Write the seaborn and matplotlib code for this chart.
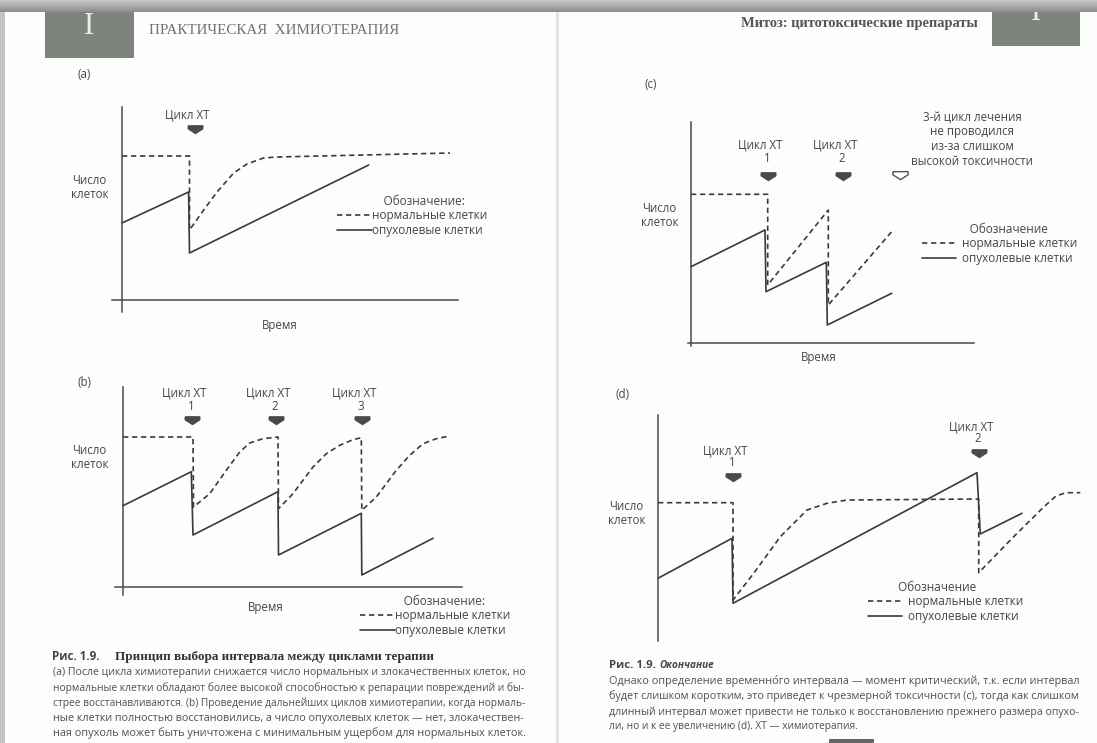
import numpy as np
import pandas as pd
import seaborn as sns
import matplotlib.pyplot as plt
from matplotlib.patches import Rectangle
from matplotlib.colors import LinearSegmentedColormap

# Значения кривых (время / число клеток)
KINDS = ['нормальные клетки', 'опухолевые клетки']

# (a)
a_norm_t = [0, 67.5, 67.5, 81.7, 95, 111.7, 125, 141.5, 155, 328]
a_norm_n = [144, 144, 70, 90, 108, 127, 136, 142, 143, 147]
a_tum_t = [0, 66.6, 67.5, 246.7]
a_tum_n = [77, 108, 47, 135]
a_cycles = [73]

# (b)
b_norm_t = [0, 70, 70.5, 86.7, 103.3, 116.7, 126.7, 140, 155, 155.5, 170, 190, 203.3, 216.7, 230,
            238.3, 238.8, 253.3, 273.3, 286.7, 300, 313.3, 325]
b_norm_n = [150, 150, 80, 93.3, 116.7, 135, 144, 148.3, 150, 78.3, 93.3, 120, 133.3, 141.7, 147.3,
            149.3, 76.7, 90, 116.7, 131.7, 143.3, 148.3, 150.7]
b_tum_t = [0, 68.3, 70, 155, 155.5, 238.3, 238.8, 310]
b_tum_n = [81.3, 115.3, 52, 95.3, 32, 73.7, 12, 48.7]
b_cycles = [69, 153, 239]

# (c)
c_norm_t = [0, 76.7, 76.7, 137.3, 137.3, 200.7]
c_norm_n = [148.7, 148.7, 58, 133, 38, 111.3]
c_tum_t = [0, 74, 75, 135.3, 136.3, 200.7]
c_tum_n = [76.3, 113, 51.3, 80.7, 18, 49.7]
c_cycles = [77, 152]
c_skipped = [209]

# (d)
d_norm_t = [0, 75, 75, 95.7, 122.3, 149, 169, 189, 320.7, 320.7, 355.7, 385.7, 398, 408, 422.3]
d_norm_n = [137.3, 137.3, 40, 66.7, 103.3, 130, 136.7, 140, 141, 67.3, 103.3, 133, 144, 147.3, 147.3]
d_tum_t = [0, 74, 75, 319, 322.3, 364]
d_tum_n = [61.7, 101.7, 36.7, 167.3, 106, 126.7]
d_cycles = [75, 321]

W, H = 1097, 743
TXT = '#464646'
LINE = '#3a3a3a'
BOX = '#7c847b'
ARROW = [(-1, 0.5), (1, 0.5), (1, 0.1), (0, -0.55), (-1, 0.1), (-1, 0.5)]

sns.set_style('white')
plt.rcParams['font.family'] = ['Open Sans', 'DejaVu Sans']

fig = plt.figure(figsize=(W / 100, H / 100), dpi=100)
fig.patch.set_facecolor('#fdfdfd')
bg = fig.add_axes([0, 0, 1, 1])
bg.axis('off')
renderer = fig.canvas.get_renderer()


def label(x, y, s, size=8.3, **kw):
    kw.setdefault('ha', 'center')
    kw.setdefault('va', 'center')
    kw.setdefault('color', TXT)
    return bg.text(x, y, s, fontsize=size, **kw)


def fit(x, y, s, width, size, **kw):
    # подгоняем размер шрифта под ширину строки (выключка по формату)
    kw.setdefault('color', TXT)
    t = bg.text(x, y, s, fontsize=size, ha='left', va='center', **kw)
    if width:
        w = t.get_window_extent(renderer).width
        t.set_fontsize(size * width / w)
    return t


def panel(rect, origin, tn, nn, tt, nt, spines=('left', 'bottom')):
    left, right, top, bottom = rect
    x0, y0 = origin
    ax = fig.add_axes([left / W, 1 - bottom / H, (right - left) / W, (bottom - top) / H])
    df = pd.DataFrame({'t': list(tn) + list(tt), 'n': list(nn) + list(nt),
                       'тип': [KINDS[0]] * len(tn) + [KINDS[1]] * len(tt)})
    sns.lineplot(data=df, x='t', y='n', hue='тип', style='тип', hue_order=KINDS, style_order=KINDS,
                 palette=[LINE, LINE], dashes=[(3.2, 2.2), ''], estimator=None, sort=False,
                 lw=1.2, ax=ax)
    ax.set_xlim(left - x0, right - x0)
    ax.set_ylim(y0 - bottom, y0 - top)
    ax.set(xlabel='', ylabel='', xticks=[], yticks=[])
    ax.patch.set_alpha(0)
    for k, sp in ax.spines.items():
        if k in spines:
            sp.set_visible(True)
            sp.set_position(('data', 0))
            sp.set_color('#4a4a4a')
            sp.set_linewidth(1.1)
        else:
            sp.set_visible(False)
    return ax


def legend(ax, x, y, title, hl, pad):
    old = ax.get_legend()
    handles = [h for h, t in zip(old.legend_handles, old.get_texts()) if t.get_text() in KINDS]
    leg = ax.legend(handles, KINDS, title=title, loc='upper left', bbox_to_anchor=(x / W, 1 - y / H),
                    bbox_transform=fig.transFigure, frameon=False, fontsize=8.5, title_fontsize=8.5,
                    handlelength=hl, handletextpad=pad, labelspacing=0.12, borderpad=0,
                    borderaxespad=0, labelcolor=TXT)
    leg.get_title().set_color(TXT)


def arrows(ax, xs, hs, hollow=False):
    if hollow:
        ax.plot(xs, hs, ls='none', marker=ARROW, ms=11, mfc='white', mec='#555555', mew=1)
    else:
        ax.plot(xs, hs, ls='none', marker=ARROW, ms=10.5, color='#4a4a4a')


def cycle_text(origin, xs, hs, dy_t, dy_n, numbered=True):
    x0, y0 = origin
    for i, (c, h) in enumerate(zip(xs, hs)):
        px, py = x0 + c, y0 - h
        label(px - 8, py - dy_t, 'Цикл ХТ')
        if numbered:
            label(px - 1, py - dy_n, str(i + 1))


def ylabel(x, y):
    label(x, y, 'Число', ha='left')
    label(x - 1, y + 14, 'клеток', ha='left')


# ---- (a)
oa = (122, 300)
ax = panel((112, 458, 107, 312), oa, a_norm_t, a_norm_n, a_tum_t, a_tum_n)
arrows(ax, a_cycles, [171])
legend(ax, 337, 195, '\u2003\u2003Обозначение:', 3.0, 0.0)
cycle_text(oa, a_cycles, [171], 14, 0, numbered=False)
ylabel(72, 180)
label(280, 325, 'Время')
label(84, 75, '(a)')

# ---- (b)
ob = (123, 587)
ax = panel((115, 462, 387, 595), ob, b_norm_t, b_norm_n, b_tum_t, b_tum_n)
arrows(ax, b_cycles, [167] * 3)
legend(ax, 360, 595, '\u2003\u2002Обозначение:', 3.0, 0.0)
cycle_text(ob, b_cycles, [167] * 3, 27, 13)
ylabel(72, 450)
label(266, 607, 'Время')
label(84, 383, '(b)')

# ---- (c)
oc = (691, 343)
ax = panel((688, 974, 122, 346), oc, c_norm_t, c_norm_n, c_tum_t, c_tum_n)
arrows(ax, c_cycles, [167] * 2)
arrows(ax, c_skipped, [168], hollow=True)
legend(ax, 922, 223, '\u2003\u2002Обозначение', 2.9, 0.5)
cycle_text(oc, c_cycles, [167] * 2, 31, 18)
for i, s in enumerate(['3-й цикл лечения', 'не проводился', 'из-за слишком', 'высокой токсичности']):
    label(972, 117 + 14.7 * i, s)
ylabel(642, 209)
label(819, 358, 'Время')
label(651, 84, '(c)')

# ---- (d)
od = (658, 640)
ax = panel((655, 1092, 415, 641), od, d_norm_t, d_norm_n, d_tum_t, d_tum_n, spines=('left',))
arrows(ax, d_cycles, [163, 187])
legend(ax, 868, 581, 'Обозначение\u2003\u2002', 2.9, 0.5)
cycle_text(od, d_cycles, [163, 187], 26, 15)
ylabel(609, 507)
label(622, 395, '(d)')

# ---- оформление страниц
bg.add_patch(Rectangle((45, 12), 89, 46, color=BOX, lw=0))
bg.text(89, 26, 'I', fontsize=22, family='Liberation Serif', color='#eeeeee', ha='center', va='center')
fit(149, 30, 'ПРАКТИЧЕСКАЯ  ХИМИОТЕРАПИЯ', 251, 10,
    family=['Liberation Serif', 'DejaVu Serif'], color='#707070')
fit(741, 23, 'Митоз: цитотоксические препараты', 238, 10, family='Liberation Serif',
    weight='bold', color='#555555')
bg.add_patch(Rectangle((992, 12), 88, 34, color=BOX, lw=0))
bg.text(1036, 27, 'I', fontsize=22, family='Liberation Serif', color='#eeeeee', ha='center',
        va='bottom')

cmap = LinearSegmentedColormap.from_list('band', ['#c6c6c6', '#8e8e8e'])
bg.imshow(np.linspace(0, 1, 12)[:, None], extent=[0, W, 12, 0], cmap=cmap, aspect='auto', zorder=5)
bg.add_patch(Rectangle((0, 0), 5, H, color='#c4c4c4', lw=0, zorder=4))
bg.add_patch(Rectangle((556, 12), 3, H, color='#e6e2e2', lw=0))
bg.add_patch(Rectangle((829, 739), 45, 4, color='#666666', lw=0))
bg.set_xlim(0, W)
bg.set_ylim(H, 0)

# ---- подписи
fit(52, 657, 'Рис. 1.9.', 48, 8, weight='bold')
fit(115, 657, 'Принцип выбора интервала между циклами терапии', 317, 10,
    family='Liberation Serif', weight='bold', color='#333333')
left_lines = [
    '(a) После цикла химиотерапии снижается число нормальных и злокачественных клеток, но',
    'нормальные клетки обладают более высокой способностью к репарации повреждений и бы-',
    'стрее восстанавливаются. (b) Проведение дальнейших циклов химиотерапии, когда нормаль-',
    'ные клетки полностью восстановились, а число опухолевых клеток — нет, злокачествен-',
    'ная опухоль может быть уничтожена с минимальным ущербом для нормальных клеток.',
]
for i, s in enumerate(left_lines):
    fit(53, 673 + 15 * i, s, 474, 7.3, color='#505050')

fit(609, 665, 'Рис. 1.9.', 47, 8, weight='bold')
fit(659, 665, 'Окончание', 55, 8, weight='bold', style='italic')
right_lines = [
    'Однако определение временно\u0301го интервала — момент критический, т.к. если интервал',
    'будет слишком коротким, это приведет к чрезмерной токсичности (c), тогда как слишком',
    'длинный интервал может привести не только к восстановлению прежнего размера опухо-',
]
for i, s in enumerate(right_lines):
    fit(609, 681 + 15.5 * i, s, 473, 7.3, color='#505050')
fit(609, 727, 'ли, но и к ее увеличению (d). ХТ — химиотерапия.', None, 7.3, color='#505050')

fig.savefig('out.png', dpi=100)
